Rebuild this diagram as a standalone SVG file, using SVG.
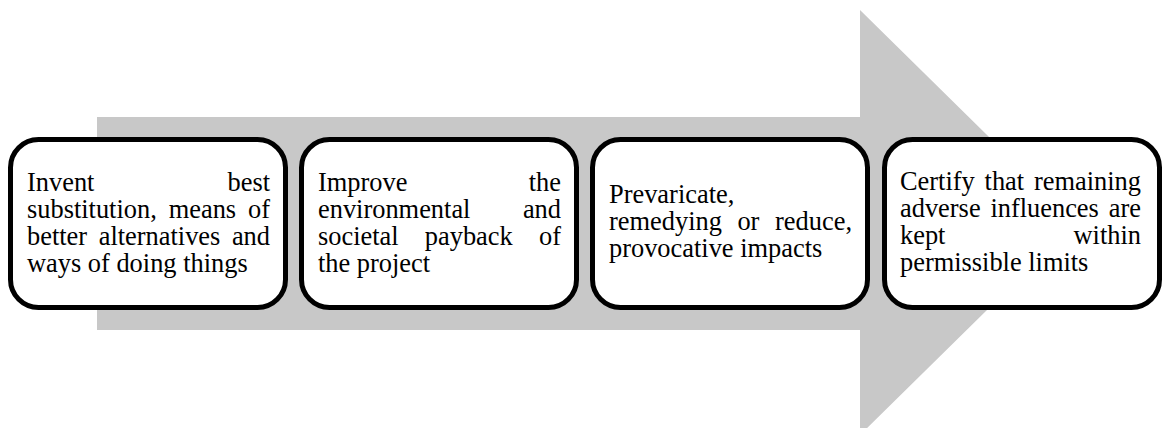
<svg xmlns="http://www.w3.org/2000/svg" width="1164" height="428" viewBox="0 0 1164 428">
<style>
.box{fill:#ffffff;stroke:#000000;stroke-width:5}
.t{font-family:"Liberation Serif","Times New Roman",serif;font-size:26.4px;fill:#000000}
.e{text-anchor:end}
</style>
<rect width="1164" height="428" fill="#ffffff"/>
<g id="arrow">
<path d="M97,117 L860,117 L860,10 L1076,222.5 L860,435 L860,330 L97,330 Z" fill="#c8c8c8"/>
</g>
<g id="connectors"></g>
<g id="node1">
<rect class="box" x="10.5" y="139.5" width="275" height="168" rx="28" ry="28"/>
<text class="t" x="27" y="191">Invent</text>
<text class="t e" x="270" y="191">best</text>
<text class="t" x="27" y="218">substitution,</text>
<text class="t" x="168.7" y="218">means</text>
<text class="t e" x="270" y="218">of</text>
<text class="t" x="27" y="245">better</text>
<text class="t" x="98.7" y="245">alternatives</text>
<text class="t e" x="270" y="245">and</text>
<text class="t" x="27" y="272">ways of doing things</text>
</g>
<g id="node2">
<rect class="box" x="301.5" y="139.5" width="275" height="168" rx="28" ry="28"/>
<text class="t" x="318" y="191">Improve</text>
<text class="t e" x="561" y="191">the</text>
<text class="t" x="318" y="218">environmental</text>
<text class="t e" x="561" y="218">and</text>
<text class="t" x="318" y="245">societal</text>
<text class="t" x="424.8" y="245">payback</text>
<text class="t e" x="561" y="245">of</text>
<text class="t" x="318" y="272">the project</text>
</g>
<g id="node3">
<rect class="box" x="592.5" y="139.5" width="275" height="168" rx="28" ry="28"/>
<text class="t" x="609" y="203">Prevaricate,</text>
<text class="t" x="609" y="230">remedying</text>
<text class="t" x="737.4" y="230">or</text>
<text class="t e" x="852" y="230">reduce,</text>
<text class="t" x="609" y="257">provocative impacts</text>
</g>
<g id="node4">
<rect class="box" x="884.5" y="139.5" width="275" height="168" rx="28" ry="28"/>
<text class="t" x="900" y="190">Certify</text>
<text class="t" x="984.6" y="190">that</text>
<text class="t e" x="1141" y="190">remaining</text>
<text class="t" x="900" y="217">adverse</text>
<text class="t" x="990.4" y="217">influences</text>
<text class="t e" x="1141" y="217">are</text>
<text class="t" x="900" y="244">kept</text>
<text class="t e" x="1141" y="244">within</text>
<text class="t" x="900" y="271">permissible limits</text>
</g>
</svg>
